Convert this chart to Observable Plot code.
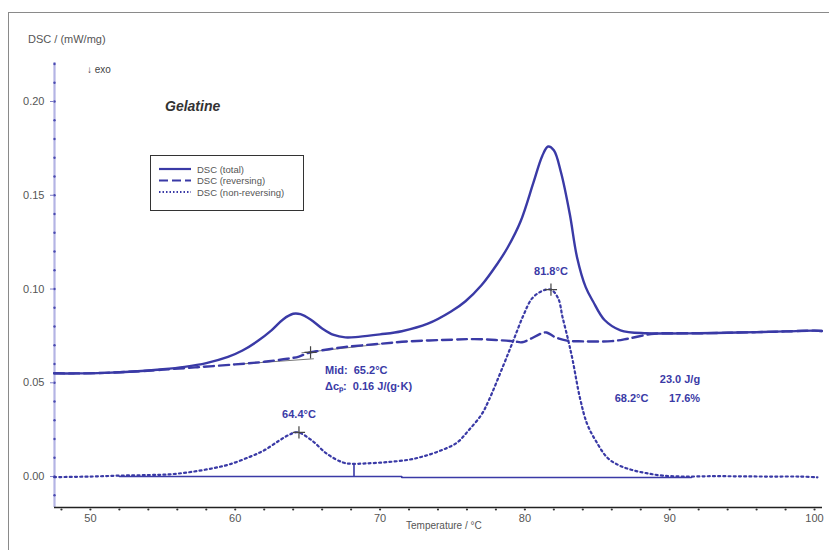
<!DOCTYPE html>
<html><head><meta charset="utf-8">
<script src="https://cdn.jsdelivr.net/npm/d3@7"></script>
<script src="https://cdn.jsdelivr.net/npm/@observablehq/plot@0.6"></script>
<style>
body{margin:0;background:#fff;font-family:"Liberation Sans",Arial,sans-serif;}
#wrap{position:relative;width:829px;height:550px;overflow:hidden;}
#frame{position:absolute;left:8px;top:12px;width:900px;height:600px;border-left:1px solid #8a8a8a;border-top:1px solid #8a8a8a;pointer-events:none;}
.lbl{position:absolute;color:#555;white-space:nowrap;}
#legend{position:absolute;left:150px;top:155px;width:152px;height:54px;border:1.5px solid #333;background:#fff;}
</style></head><body>
<div id="wrap"><div id="chart"></div><div id="frame"></div>
<div class="lbl" style="left:28px;top:33px;font-size:11px;">DSC / (mW/mg)</div>
<div class="lbl" style="left:87px;top:64px;font-size:10px;color:#444;">↓ exo</div>
<div class="lbl" style="left:165px;top:98px;font-size:14px;font-weight:bold;font-style:italic;color:#333;">Gelatine</div>
<div class="lbl" style="left:406px;top:520px;font-size:10px;">Temperature / °C</div>
<div id="legend"></div>
</div>
<script>
// ---- data ----
const totalT = [47.5,49,51,53,55,56.5,58,59.5,60.5,61.5,62.5,63.3,64.0,64.5,65.2,66,66.8,67.6,68.5,70,71.5,73.3,74.9,75.9,77,78.1,78.8,79.7,80.6,81.2,81.6,82.0,82.5,83.1,83.6,84.2,84.7,85.5,86.6,88.4,90,92,94,96,98,100,100.5];
const totalV = [0.0551,0.0550,0.0553,0.0560,0.0572,0.0585,0.0605,0.0638,0.0672,0.0720,0.0780,0.0838,0.0868,0.0866,0.0838,0.0790,0.0755,0.0742,0.0745,0.0758,0.0775,0.0815,0.0880,0.0935,0.1020,0.1135,0.1220,0.1360,0.1570,0.1710,0.1760,0.1740,0.1620,0.1400,0.1170,0.1010,0.0935,0.0835,0.0780,0.0764,0.0763,0.0764,0.0767,0.0770,0.0774,0.0778,0.0776];

const revT = [47.5,49,51,53,55,57.4,60,62,63.6,64.4,65.0,65.6,67.5,70,72,75,76.5,78,79.3,79.8,81.2,81.5,82.1,82.9,84,86,87.1,88.7,89.5,92,94,96,98,100,100.5];
const revV = [0.0551,0.0550,0.0553,0.0560,0.0570,0.0583,0.0598,0.0612,0.0628,0.0640,0.0658,0.0668,0.0690,0.0708,0.0721,0.0730,0.0733,0.0728,0.0721,0.0716,0.0765,0.0768,0.0743,0.0725,0.0721,0.0722,0.0735,0.0760,0.0764,0.0764,0.0767,0.0770,0.0774,0.0778,0.0776];

const nonT = [47.5,50,52,54,55.5,57,58.5,59.6,61,62,63,63.7,64.3,65.3,66.3,67.4,68,69,70.5,72,73,74.2,75.3,76.1,77,77.5,78.5,79.2,79.9,80.5,81.2,81.8,82.3,82.6,83.0,83.3,83.8,84.3,84.9,85.7,86.5,87.4,88.4,89.5,91,93,95,97,99,100.2];
const nonV = [-0.0003,0.0000,0.0005,0.0008,0.0012,0.0025,0.0045,0.0065,0.0105,0.0140,0.0190,0.0222,0.0236,0.0192,0.0123,0.0076,0.0068,0.0070,0.0077,0.0090,0.0108,0.0139,0.0180,0.0245,0.0330,0.0405,0.0590,0.0725,0.0860,0.0950,0.0990,0.0997,0.0950,0.0850,0.0725,0.0620,0.0420,0.0280,0.0190,0.0100,0.0060,0.0035,0.0018,0.0005,0.0000,0.0002,0.0001,0.0000,0.0000,-0.0004];

const baseT = [52,71.5,71.5,91.5];
const baseV = [0,0,-0.0005,-0.0005];
const tangLowT = [60,65.4], tangLowV = [0.0598,0.0628];
const tangUpT = [64.6,70], tangUpV = [0.0660,0.0706];

const peaks = [{T:64.4,v:0.0236,label:"64.4°C"},{T:81.8,v:0.0997,label:"81.8°C"}];
const midPoint = {T:65.2,v:0.0662};
const partialT = 68.2, partialV = 0.0068;

const xTicks = [50,60,70,80,90,100];
const xMinor = d3.range(48,101,2);
const yTicks = [0,0.05,0.10,0.15,0.20];
const yMinor = d3.range(-1,23).map(i=>i/100);

const blue = "#3a3aa6";
const zip = (T,V)=>T.map((t,i)=>({T:t,v:V[i]}));
const total = zip(totalT,totalV), rev = zip(revT,revV), non = zip(nonT,nonV);
const base = zip(baseT,baseV);

const chart = Plot.plot({
  width:829, height:550,
  marginLeft:54, marginRight:7, marginTop:62, marginBottom:43,
  style:{fontFamily:'"Liberation Sans",Arial,sans-serif',fontSize:"11px",color:"#555",background:"transparent"},
  x:{domain:[47.52,100.55]},
  y:{domain:[-0.0165,0.2208]},
  marks:[
    Plot.ruleX([47.52],{stroke:"#b4b4e4",strokeWidth:2.2}),
    Plot.dot(yMinor,{y:d=>d,frameAnchor:"left",r:1.2,fill:"#4a4ab0",stroke:null}),
    Plot.axisY(yTicks,{label:null,tickSize:4,tickPadding:6,tickFormat:d=>d.toFixed(2),stroke:"#8080c8",fill:"#555",fontSize:11}),
    Plot.ruleY([-0.0165],{stroke:"#222",strokeWidth:1.4}),
    Plot.dot(xMinor,{x:d=>d,frameAnchor:"bottom",dy:2,r:1.1,fill:"#333",stroke:null}),
    Plot.axisX(xTicks,{label:null,tickSize:0,tickPadding:7,fill:"#555",fontSize:11}),
    // baseline for peak integration
    Plot.line(base,{x:"T",y:"v",stroke:blue,strokeWidth:1.6}),
    Plot.ruleX([partialT],{y1:0,y2:partialV,stroke:blue,strokeWidth:1.6}),
    // tangents of the step
    Plot.line(zip(tangLowT,tangLowV),{x:"T",y:"v",stroke:"#555",strokeWidth:0.8}),
    Plot.line(zip(tangUpT,tangUpV),{x:"T",y:"v",stroke:"#555",strokeWidth:0.8}),
    // curves
    Plot.line(non,{x:"T",y:"v",curve:"catmull-rom",stroke:blue,strokeWidth:2.2,strokeDasharray:"2,3.2"}),
    Plot.line(rev,{x:"T",y:"v",curve:"catmull-rom",stroke:blue,strokeWidth:2.4,strokeDasharray:"10,5"}),
    Plot.line(total,{x:"T",y:"v",curve:"catmull-rom",stroke:blue,strokeWidth:2.4}),
    // markers
    Plot.dot(peaks,{x:"T",y:"v",symbol:"plus",r:4,stroke:"#444",strokeWidth:1.2}),
    Plot.dot([midPoint],{x:"T",y:"v",symbol:"plus",r:4,stroke:"#444",strokeWidth:1.2}),
    // annotations
    Plot.text(peaks,{x:"T",y:"v",text:"label",dy:-18,fill:blue,fontWeight:"bold",fontSize:11}),
    Plot.text(["Mid:  65.2°C"],{x:66.2,y:0.0565,text:d=>d,textAnchor:"start",fill:blue,fontWeight:"bold",fontSize:11}),
    Plot.text(["Δcₚ:  0.16 J/(g·K)"],{x:66.2,y:0.0480,text:d=>d,textAnchor:"start",fill:blue,fontWeight:"bold",fontSize:11}),
    Plot.text(["23.0 J/g"],{x:92.1,y:0.0517,text:d=>d,textAnchor:"end",fill:blue,fontWeight:"bold",fontSize:11}),
    Plot.text(["68.2°C"],{x:86.2,y:0.0416,text:d=>d,textAnchor:"start",fill:blue,fontWeight:"bold",fontSize:11}),
    Plot.text(["17.6%"],{x:92.1,y:0.0416,text:d=>d,textAnchor:"end",fill:blue,fontWeight:"bold",fontSize:11})
  ]
});
document.getElementById("chart").appendChild(chart);

// legend
const legendItems = [
  {name:"DSC (total)", dash:null, w:2.2},
  {name:"DSC (reversing)", dash:"9,4", w:2.2},
  {name:"DSC (non-reversing)", dash:"1.5,2", w:1.8}
];
const lg = d3.select("#legend").append("svg").attr("width",152).attr("height",54);
legendItems.forEach((d,i)=>{
  const y = 13 + i*11.5;
  lg.append("line").attr("x1",8).attr("x2",40).attr("y1",y).attr("y2",y)
    .attr("stroke",blue).attr("stroke-width",d.w).attr("stroke-dasharray",d.dash);
  lg.append("text").attr("x",46).attr("y",y+3.5).attr("font-size",9.5).attr("fill","#555")
    .attr("font-family",'"Liberation Sans",Arial,sans-serif').text(d.name);
});
</script>
</body></html>
